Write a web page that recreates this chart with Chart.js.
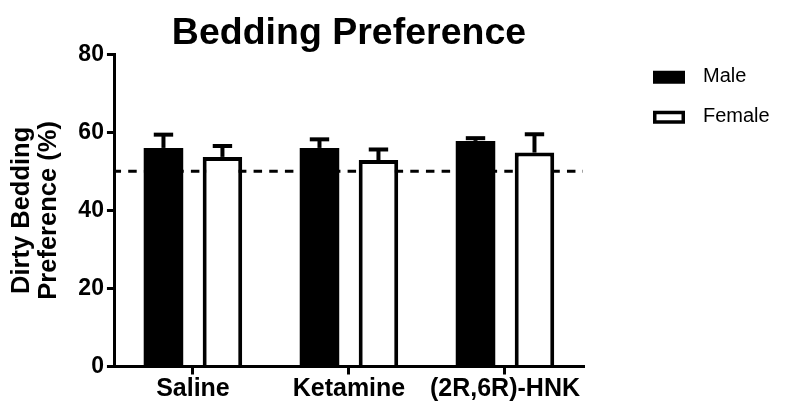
<!DOCTYPE html>
<html><head><meta charset="utf-8">
<script src="https://cdn.jsdelivr.net/npm/chart.js@4.4.0/dist/chart.umd.min.js"></script>
<style>html,body{margin:0;padding:0;background:#fff}</style>
</head><body>
<canvas id="c" width="790" height="405"></canvas>
<script>
const categories = ['Saline', 'Ketamine', '(2R,6R)-HNK'];
const seriesNames = ['Male', 'Female'];
const maleMean = [56.0, 56.0, 57.8];
const maleSem = [3.4, 2.2, 0.7];
const femaleMean = [53.7, 52.9, 54.8];
const femaleSem = [2.8, 2.7, 4.7];
const yTicks = [0, 20, 40, 60, 80];
const referenceLine = 50;
const titleText = 'Bedding Preference';
const yTitle = ['Dirty Bedding', 'Preference (%)'];

const FAM = '"Liberation Sans", Arial, Helvetica, sans-serif';

const errorBars = {
  id: 'errorBars',
  afterDatasetsDraw(chart) {
    const ctx = chart.ctx;
    const y = chart.scales.y;
    const sems = [maleSem, femaleSem];
    const means = [maleMean, femaleMean];
    chart.data.datasets.forEach((ds, di) => {
      const meta = chart.getDatasetMeta(di);
      meta.data.forEach((el, i) => {
        const top = y.getPixelForValue(means[di][i] + sems[di][i]);
        ctx.save();
        ctx.strokeStyle = '#000';
        ctx.lineWidth = 4;
        ctx.beginPath();
        ctx.moveTo(el.x, el.y);
        ctx.lineTo(el.x, top);
        ctx.stroke();
        ctx.beginPath();
        ctx.moveTo(el.x - 9.7, top);
        ctx.lineTo(el.x + 9.7, top);
        ctx.stroke();
        ctx.restore();
      });
    });
  }
};

const refLine = {
  id: 'refLine',
  beforeDatasetsDraw(chart) {
    const ctx = chart.ctx;
    const a = chart.chartArea;
    const py = chart.scales.y.getPixelForValue(referenceLine);
    ctx.save();
    ctx.strokeStyle = '#000';
    ctx.lineWidth = 3;
    ctx.setLineDash([8.5, 7.17]);
    ctx.lineDashOffset = 2.4;
    ctx.beginPath();
    ctx.moveTo(a.left, py);
    ctx.lineTo(a.right, py);
    ctx.stroke();
    ctx.restore();
  }
};

const sideLegend = {
  id: 'sideLegend',
  afterDraw(chart) {
    const ctx = chart.ctx;
    const a = chart.chartArea;
    const bx = a.right + 70, bw = 32, bh = 13;
    const rows = [a.top + 23, a.top + 63];
    ctx.save();
    ctx.font = '20px ' + FAM;
    ctx.textBaseline = 'middle';
    chart.data.datasets.forEach((ds, i) => {
      const cy = rows[i];
      ctx.fillStyle = '#000';
      ctx.fillRect(bx, cy - bh / 2, bw, bh);
      if (i === 1) {
        ctx.fillStyle = '#fff';
        ctx.fillRect(bx + 3.5, cy - bh / 2 + 3.5, bw - 7, bh - 7);
      }
      ctx.fillStyle = '#000';
      ctx.fillText(ds.label, bx + 50, cy - 1);
    });
    ctx.restore();
  }
};

new Chart(document.getElementById('c'), {
  type: 'bar',
  data: {
    labels: categories,
    datasets: [
      { label: seriesNames[0], data: maleMean, backgroundColor: '#000', borderColor: '#000', borderWidth: 0 },
      { label: seriesNames[1], data: femaleMean, backgroundColor: '#fff', borderColor: '#000', borderWidth: 4 }
    ]
  },
  options: {
    responsive: false,
    animation: false,
    devicePixelRatio: 1,
    categoryPercentage: 0.756,
    barPercentage: 0.67,
    layout: { padding: { left: 0, right: 207, top: 0, bottom: 1 } },
    plugins: {
      legend: { display: false },
      tooltip: { enabled: false },
      title: {
        display: true, text: titleText, color: '#000', fullSize: false,
        font: { family: FAM, size: 37.5, weight: 'bold', lineHeight: 1.1 },
        padding: { top: 13, bottom: 0 }
      }
    },
    scales: {
      x: {
        grid: { display: true, drawOnChartArea: false, drawTicks: true, tickLength: 8, lineWidth: 3, color: '#000', offset: false },
        border: { display: true, width: 3, color: '#000' },
        ticks: { color: '#000', padding: 1, font: { family: FAM, size: 25, weight: 'bold', lineHeight: 1.1 }, maxRotation: 0 }
      },
      y: {
        min: 0, max: 80,
        afterBuildTicks(scale) { scale.ticks = yTicks.map(v => ({ value: v })); },
        grid: { display: true, drawOnChartArea: false, drawTicks: true, tickLength: 8, lineWidth: 3, color: '#000' },
        border: { display: true, width: 3, color: '#000' },
        ticks: { color: '#000', padding: 3, font: { family: FAM, size: 23, weight: 'bold' } },
        title: {
          display: true, text: yTitle, color: '#000',
          font: { family: FAM, size: 25.5, weight: 'bold', lineHeight: 1.06 },
          padding: { top: 8.5, bottom: 12.8 }
        }
      }
    }
  },
  plugins: [refLine, errorBars, sideLegend]
});
</script>
</body></html>
